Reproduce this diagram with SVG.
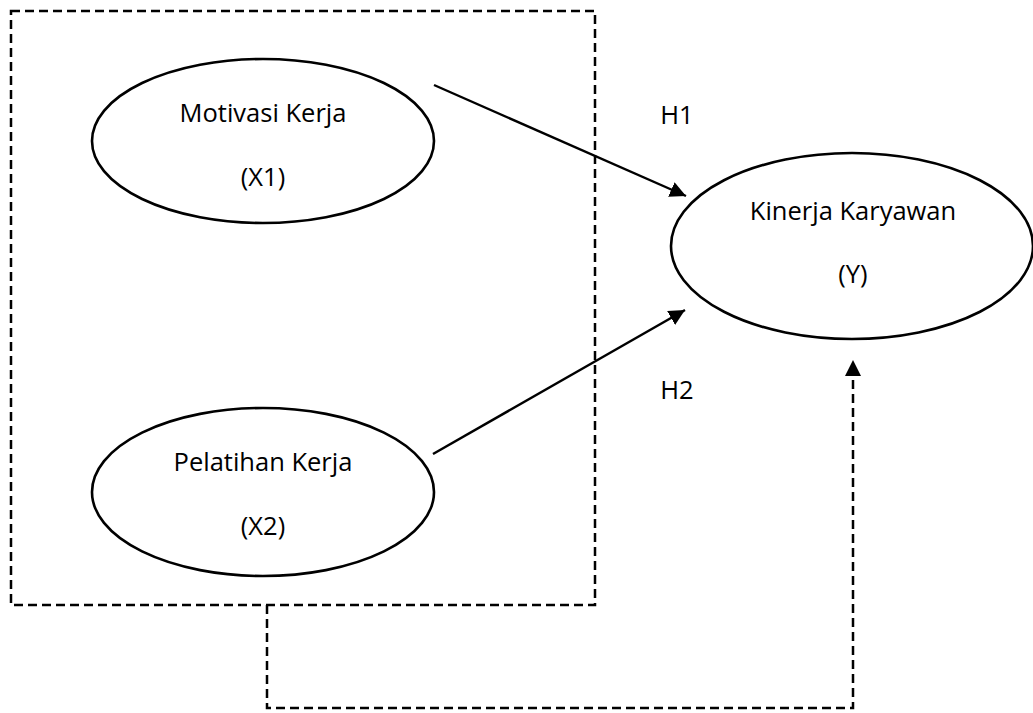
<svg xmlns="http://www.w3.org/2000/svg" width="1033" height="713" viewBox="0 0 1033 713">
<style>
.node{fill:#fff;stroke:#000;stroke-width:2.6}
.lbl{font-family:"Open Sans","Liberation Sans",sans-serif;font-size:25.5px;fill:#000;text-anchor:middle}
.dash{fill:none;stroke:#000;stroke-width:2.5;stroke-dasharray:9,5}
.solid{fill:none;stroke:#000;stroke-width:2.4}
</style>
<defs>
<marker id="arr" markerUnits="userSpaceOnUse" markerWidth="18" markerHeight="16" refX="16" refY="8" orient="auto">
<path d="M0,0 L16,8 L0,16 Z" fill="#000"/>
</marker>
</defs>
<g id="group-box">
<rect class="dash" x="11" y="11" width="584" height="594"/>
</g>
<g id="node-x1">
<ellipse class="node" cx="263" cy="141" rx="171" ry="82"/>
<text class="lbl" x="263" y="122">Motivasi Kerja</text>
<text class="lbl" x="263" y="186">(X1)</text>
</g>
<g id="node-x2">
<ellipse class="node" cx="263" cy="492" rx="171" ry="84"/>
<text class="lbl" x="263" y="471">Pelatihan Kerja</text>
<text class="lbl" x="263" y="535">(X2)</text>
</g>
<g id="node-y">
<ellipse class="node" cx="852" cy="246" rx="181" ry="93"/>
<text class="lbl" x="853" y="220">Kinerja Karyawan</text>
<text class="lbl" x="853" y="283">(Y)</text>
</g>
<g id="connectors">
<line class="solid" x1="434" y1="85" x2="686" y2="196" marker-end="url(#arr)"/>
<line class="solid" x1="433" y1="454" x2="685" y2="310" marker-end="url(#arr)"/>
<polyline class="dash" points="267,605 267,708 853,708 853,376"/>
<path d="M845,376 L853,360 L861,376 Z" fill="#000"/>
<text class="lbl" x="677" y="124">H1</text>
<text class="lbl" x="677" y="399">H2</text>
</g>
</svg>
